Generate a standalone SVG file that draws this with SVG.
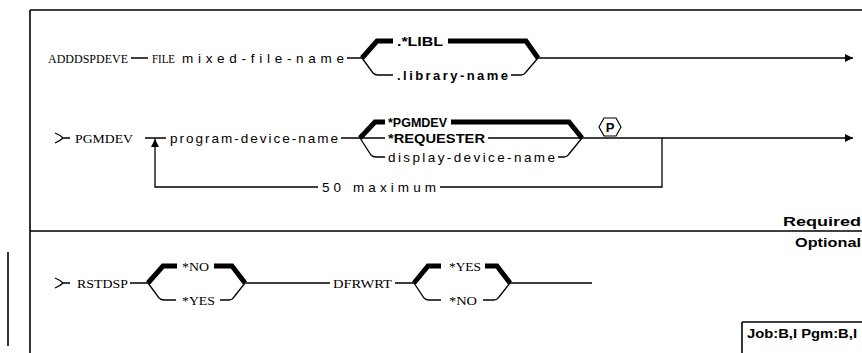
<svg xmlns="http://www.w3.org/2000/svg" width="862" height="353" viewBox="0 0 862 353">
<defs>
<marker id="arr" viewBox="0 0 10 10" refX="10" refY="5" markerWidth="8" markerHeight="8" markerUnits="userSpaceOnUse" orient="auto"><path d="M0,0 L10,5 L0,10 Z" fill="#000"/></marker>
<style>
.ln{fill:none;stroke:#000;stroke-width:1.3}
.tk{fill:none;stroke:#000;stroke-width:5;stroke-linejoin:miter}
.fr{fill:none;stroke:#000;stroke-width:1.6}
.kw{font-family:"Liberation Serif",serif;font-size:13.5px;fill:#000}
.nm{font-family:"Liberation Sans",sans-serif;font-size:13.5px;fill:#000}
.bd{font-family:"Liberation Sans",sans-serif;font-size:13px;font-weight:bold;fill:#000}
</style>
</defs>
<rect width="862" height="353" fill="#fff"/>
<g id="frame">
<path class="fr" d="M30,10 H862 M30,10 V353 M30,231 H862 M8,252 V346 M742,322 V353 M742,322 H862"/>
</g>
<g id="connectors">
<path class="ln" d="M131,58 H148 M347,58 H362"/>
<path class="tk" d="M362,58 L377,41 H393"/>
<path class="tk" d="M448,41 H526 L538,58"/>
<path class="ln" d="M362,58 L373,73 Q375,75 378,75 H393 M511,75 H521 Q524,75 526,72 L538,58"/>
<path class="ln" d="M538,58 H853" marker-end="url(#arr)"/>
<path class="ln" d="M55,133 Q60,135 63,138 Q60,141 55,143 M63,138 H70"/>
<path class="ln" d="M145,138 H166 M341,138 H360"/>
<path class="tk" d="M360,138 L375,122 H385"/>
<path class="tk" d="M451,122 H569 L582,138"/>
<path class="ln" d="M360,138 H385 M488,138 H582"/>
<path class="ln" d="M360,138 L371,155 Q373,157 376,157 H385 M558,157 H564 Q567,157 569,154 L582,138"/>
<path class="ln" d="M582,138 H853" marker-end="url(#arr)"/>
<path class="ln" d="M662,138 V187 H440 M318,187 H155 V139" marker-end="url(#arr)"/>
<path class="ln" d="M55,278 Q60,280 63,283 Q60,286 55,288 M63,283 H70 M130,283 H148"/>
<path class="tk" d="M148,283 L163,266 H177"/>
<path class="tk" d="M214,266 H232 L245,283"/>
<path class="ln" d="M148,283 L159,298 Q161,300 164,300 H176 M220,300 H229 Q232,300 234,297 L245,283 M245,283 H330 M395,283 H414"/>
<path class="tk" d="M414,283 L428,266 H441"/>
<path class="tk" d="M485,266 H497 L510,283"/>
<path class="ln" d="M414,283 L424,298 Q426,300 429,300 H441 M483,300 H494 Q497,300 499,297 L510,283 M510,283 H592"/>
</g>
<g id="n-addd"><text class="kw" x="48" y="62.5" textLength="80" lengthAdjust="spacingAndGlyphs">ADDDSPDEVE</text></g>
<g id="n-file"><text class="kw" x="152" y="62.5" textLength="23" lengthAdjust="spacingAndGlyphs">FILE</text></g>
<g id="n-mixed"><text class="nm" x="182" y="62.5" textLength="162" lengthAdjust="spacing">mixed-file-name</text></g>
<g id="n-libl"><text class="bd" x="397" y="45.5" textLength="46" lengthAdjust="spacingAndGlyphs">.*LIBL</text></g>
<g id="n-lib"><text class="bd" x="397" y="79.5" textLength="111" lengthAdjust="spacing">.library-name</text></g>
<g id="n-pgmdev"><text class="kw" x="75" y="142.5" textLength="58" lengthAdjust="spacingAndGlyphs">PGMDEV</text></g>
<g id="n-prog"><text class="nm" x="170" y="142.5" textLength="168" lengthAdjust="spacing">program-device-name</text></g>
<g id="n-spgm"><text class="bd" x="388" y="126.5" textLength="59" lengthAdjust="spacingAndGlyphs">*PGMDEV</text></g>
<g id="n-req"><text class="bd" x="388" y="142.5" textLength="97" lengthAdjust="spacingAndGlyphs">*REQUESTER</text></g>
<g id="n-disp"><text class="nm" x="388" y="161.5" textLength="167" lengthAdjust="spacing">display-device-name</text></g>
<g id="n-max"><text class="nm" x="322" y="191.5" textLength="114" lengthAdjust="spacing">50 maximum</text></g>
<g id="n-p"><path d="M599,127 L604,118 H616 L621,127 L616,136 H604 Z" fill="#fff" stroke="#000" stroke-width="1.2"/><text class="bd" x="610" y="131.5" text-anchor="middle">P</text></g>
<g id="n-required"><text class="bd" x="861" y="226" text-anchor="end" textLength="78" lengthAdjust="spacingAndGlyphs">Required</text></g>
<g id="n-optional"><text class="bd" x="861" y="247" text-anchor="end" textLength="66" lengthAdjust="spacingAndGlyphs">Optional</text></g>
<g id="n-rstdsp"><text class="kw" x="77" y="287.5" textLength="51" lengthAdjust="spacingAndGlyphs">RSTDSP</text></g>
<g id="n-no1"><text class="kw" x="182" y="270.5" textLength="27" lengthAdjust="spacingAndGlyphs">*NO</text></g>
<g id="n-yes1"><text class="kw" x="182" y="304.5" textLength="33" lengthAdjust="spacingAndGlyphs">*YES</text></g>
<g id="n-dfrwrt"><text class="kw" x="333" y="287.5" textLength="59" lengthAdjust="spacingAndGlyphs">DFRWRT</text></g>
<g id="n-yes2"><text class="kw" x="449" y="270.5" textLength="32" lengthAdjust="spacingAndGlyphs">*YES</text></g>
<g id="n-no2"><text class="kw" x="449" y="304.5" textLength="28" lengthAdjust="spacingAndGlyphs">*NO</text></g>
<g id="n-job"><text class="bd" x="747" y="338" textLength="110" lengthAdjust="spacingAndGlyphs">Job:B,I Pgm:B,I</text></g>
</svg>
